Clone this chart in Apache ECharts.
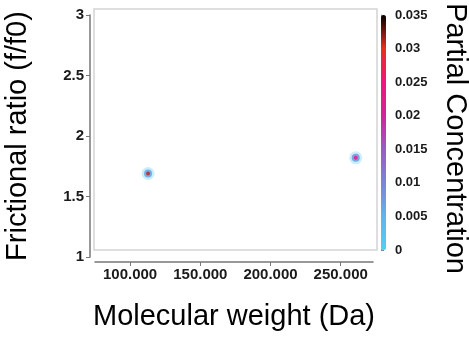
<!DOCTYPE html>
<html>
<head>
<meta charset="utf-8">
<script src="https://cdn.jsdelivr.net/npm/echarts@6/dist/echarts.min.js"></script>
<style>html,body{margin:0;padding:0;background:#fff}#c{width:469px;height:341px}</style>
</head>
<body>
<div id="c"></div>
<script>
// Peaks (molecular weight in Da, frictional ratio, partial concentration)
var peakMW = [112800, 260700];
var peakFF0 = [1.69, 1.82];
var peakConc = [0.031, 0.024];
var haloConc = [0.002, 0.002];
var ringConc = [0.006, 0.007];
var xTicks = [100000, 150000, 200000, 250000];
var yTicks = [1, 1.5, 2, 2.5, 3];
var cbTicks = [0, 0.005, 0.01, 0.015, 0.02, 0.025, 0.03, 0.035];
var xTitle = 'Molecular weight (Da)';
var yTitle = 'Frictional ratio (f/f0)';
var cTitle = 'Partial Concentration';

function pts(vals) {
  return peakMW.map(function (m, i) { return [m, peakFF0[i], vals[i]]; });
}

var chart = echarts.init(document.getElementById('c'), null, { renderer: 'canvas' });
var tickFont = { fontFamily: 'Liberation Sans, Arial, sans-serif', fontWeight: 'bold', color: '#1a1a1a' };
var titleFont = { fontFamily: 'Liberation Sans, Arial, sans-serif', fontSize: 29, color: '#000' };

chart.setOption({
  backgroundColor: '#fff',
  animation: false,
  graphic: [{
    type: 'rect', shape: { x: 94, y: 9, width: 283, height: 241 },
    style: { fill: 'none', stroke: '#d4d4d4', lineWidth: 1.5 }, z: 0
  }],
  grid: [
    { left: 95, right: 96, top: 15, bottom: 84, containLabel: false, outerBoundsMode: 'none' },
    { left: 381, width: 5, top: 15, bottom: 91, containLabel: false, outerBoundsMode: 'none' }
  ],
  xAxis: [{
    gridIndex: 0, type: 'value', min: 75000, max: 273000,
    offset: 5,
    axisLine: { show: true, lineStyle: { color: '#777', width: 1.5 } },
    axisTick: { show: true, customValues: xTicks, length: 4, inside: false, lineStyle: { color: '#777' } },
    axisLabel: Object.assign({ customValues: xTicks, fontSize: 15, margin: 5,
      formatter: function (v) { return (v / 1000).toFixed(3); } }, tickFont),
    splitLine: { show: false },
    name: xTitle, nameLocation: 'middle', nameGap: 40, nameTextStyle: titleFont
  }, {
    gridIndex: 1, type: 'value', show: false, min: 0, max: 1
  }],
  yAxis: [{
    gridIndex: 0, type: 'value', min: 1, max: 3, interval: 0.5,
    offset: 5,
    axisLine: { show: true, lineStyle: { color: '#777', width: 1.5 } },
    axisTick: { show: true, length: 4, lineStyle: { color: '#777' } },
    axisLabel: Object.assign({ fontSize: 15, margin: 6,
      formatter: function (v) { return String(v); } }, tickFont),
    splitLine: { show: false },
    name: yTitle, nameLocation: 'middle', nameGap: 58, nameTextStyle: titleFont
  }, {
    gridIndex: 1, type: 'value', min: 0, max: 0.035, interval: 0.005, position: 'right',
    axisLine: { show: true, lineStyle: { color: '#888', width: 1 } },
    axisTick: { show: true, length: 3, lineStyle: { color: '#888' } },
    axisLabel: Object.assign({ fontSize: 13, margin: 9,
      formatter: function (v) { return String(+v.toFixed(3)); } }, tickFont),
    splitLine: { show: false },
    name: cTitle, nameLocation: 'middle', nameRotate: -90, nameGap: 54,
    nameTextStyle: Object.assign({ padding: [0, 0, 0, 12] }, titleFont)
  }],
  visualMap: [{
    type: 'continuous', min: 0, max: 0.035, dimension: 2,
    seriesIndex: [0, 1, 2],
    left: 381, top: 15, itemWidth: 5, itemHeight: 235, padding: 0,
    calculable: false, text: null, showLabel: false, orient: 'vertical',
    inRange: { color: ['#4fd0f2', '#62b4e8', '#7a86d4', '#9a5cc0', '#d0259e', '#f0167a', '#e8301e', '#000000'] }
  }],
  series: [{
    type: 'scatter', xAxisIndex: 0, yAxisIndex: 0, data: pts(haloConc),
    symbolSize: 13, itemStyle: { opacity: 0.3 }, silent: true
  }, {
    type: 'scatter', xAxisIndex: 0, yAxisIndex: 0, data: pts(ringConc),
    symbolSize: 8, itemStyle: { opacity: 0.9 }, silent: true
  }, {
    type: 'scatter', xAxisIndex: 0, yAxisIndex: 0, data: pts(peakConc),
    symbolSize: 4, silent: true
  }]
});
</script>
</body>
</html>
